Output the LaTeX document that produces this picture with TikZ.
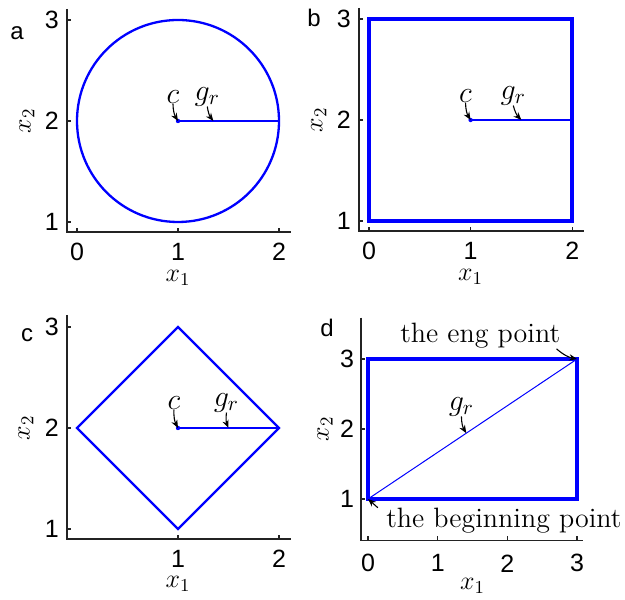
\RequirePackage{fix-cm}
\documentclass[tikz,border=0pt]{standalone}
\usepackage{fontspec}
\newfontfamily\axisfont{Liberation Sans}
\usepackage{xcolor}
\usepackage{tikz}
\usetikzlibrary{arrows.meta, positioning}
\definecolor{curveblue}{RGB}{0,0,255}
\definecolor{axisgray}{RGB}{35,35,35}
\tikzset{
    axisline/.style={draw=axisgray, line width=0.7pt},
    ticklabel/.style={font=\fontsize{12.5}{12.5}\axisfont, inner sep=0pt},
    panellabel/.style={font=\fontsize{12}{12}\axisfont, inner sep=0pt},
    axislabel/.style={font=\fontsize{13}{13}\selectfont, inner sep=0pt},
    mathlabel/.style={font=\fontsize{15}{15}\selectfont, inner sep=0pt},
    notelabel/.style={font=\fontsize{14}{14}\selectfont, inner sep=0pt},
    boundary/.style={draw=curveblue, line width=1.15pt},
    thickboundary/.style={draw=curveblue, line width=2.2pt},
    radiusline/.style={draw=curveblue, line width=0.65pt},
    pointer/.style={-{Stealth[length=4pt, width=3.2pt]}, line width=0.55pt, black}
}

\begin{document}
\begin{tikzpicture}
    \useasboundingbox (0,0) rectangle (312.5pt,299.5pt);

    % Panel labels
    \node[panellabel] (pa) at (8.5pt,283pt) {a};
    \node[panellabel] (pb) at (157pt,290.5pt) {b};
    \node[panellabel] (pc) at (13.5pt,132pt) {c};
    \node[panellabel] (pd) at (163.5pt,135.5pt) {d};

    % Panel a: circle
    \begin{scope}[shift={(38.5pt,138pt)}, x=50.5pt, y=50.5pt]
        % Axes
        \draw[axisline] (-0.1,3.11) -- (-0.1,0.9) -- (2.12,0.9);
        \foreach \t in {0,1,2} {
            \draw[axisline] (\t,0.9) -- ++(0,2pt);
            \node[ticklabel] (ax\t) at ([yshift=-10pt]\t,0.9) {\t};
        }
        \foreach \t in {1,2,3} {
            \draw[axisline] (-0.1,\t) -- ++(2pt,0);
            \node[ticklabel] (ay\t) at ([xshift=-7.5pt]-0.1,\t) {\t};
        }
        \node[axislabel] (ax) at ([yshift=-23pt]1,0.9) {$x_1$};
        \node[axislabel, rotate=90] (ay) at ([xshift=-20pt]-0.1,2) {$x_2$};

        % Shape
        \coordinate (ac) at (1,2);
        \coordinate (ar) at (2,2);
        \coordinate (ag) at (1.35,2);
        \draw[boundary] (ac) circle (1);
        \draw[radiusline] (ac) -- (ar);
        \fill[curveblue] (ac) circle (1.1pt);

        % Labels
        \node[mathlabel] (acl) at (0.95,2.24) {$c$};
        \node[mathlabel] (agl) at (1.29,2.24) {$g_r$};
        \draw[pointer] (acl.south) to[bend right=15] (ac);
        \draw[pointer] (agl.south) to[bend right=15] (ag);
    \end{scope}

    % Panel b: square
    \begin{scope}[shift={(184.5pt,138.5pt)}, x=50.8pt, y=50.5pt]
        % Axes
        \draw[axisline] (-0.1,3.11) -- (-0.1,0.9) -- (2.12,0.9);
        \foreach \t in {0,1,2} {
            \draw[axisline] (\t,0.9) -- ++(0,2pt);
            \node[ticklabel] (bx\t) at ([yshift=-10pt]\t,0.9) {\t};
        }
        \foreach \t in {1,2,3} {
            \draw[axisline] (-0.1,\t) -- ++(2pt,0);
            \node[ticklabel] (by\t) at ([xshift=-7.5pt]-0.1,\t) {\t};
        }
        \node[axislabel] (bx) at ([yshift=-23pt]1,0.9) {$x_1$};
        \node[axislabel, rotate=90] (by) at ([xshift=-20pt]-0.1,2) {$x_2$};

        % Shape
        \coordinate (bc) at (1,2);
        \coordinate (br) at (2,2);
        \coordinate (bg) at (1.5,2);
        \draw[thickboundary] (0,1) rectangle (2,3);
        \draw[radiusline] (bc) -- (br);
        \fill[curveblue] (bc) circle (1.1pt);

        % Labels
        \node[mathlabel] (bcl) at (0.95,2.24) {$c$};
        \node[mathlabel] (bgl) at (1.42,2.24) {$g_r$};
        \draw[pointer] (bcl.south) to[bend right=15] (bc);
        \draw[pointer] (bgl.south) to[bend right=15] (bg);
    \end{scope}

    % Panel c: diamond
    \begin{scope}[shift={(38.5pt,-15.5pt)}, x=50.5pt, y=50.5pt]
        % Axes
        \draw[axisline] (-0.1,3.12) -- (-0.1,0.9) -- (2.12,0.9);
        \foreach \t in {1,2} {
            \draw[axisline] (\t,0.9) -- ++(0,2pt);
            \node[ticklabel] (cx\t) at ([yshift=-10pt]\t,0.9) {\t};
        }
        \foreach \t in {1,2,3} {
            \draw[axisline] (-0.1,\t) -- ++(2pt,0);
            \node[ticklabel] (cy\t) at ([xshift=-7.5pt]-0.1,\t) {\t};
        }
        \node[axislabel] (cx) at ([yshift=-22.5pt]1,0.9) {$x_1$};
        \node[axislabel, rotate=90] (cy) at ([xshift=-20.5pt]-0.1,2) {$x_2$};

        % Shape
        \coordinate (cc) at (1,2);
        \coordinate (cr) at (2,2);
        \coordinate (cg) at (1.5,2);
        \draw[boundary] (0,2) -- (1,3) -- (cr) -- (1,1) -- cycle;
        \draw[radiusline] (cc) -- (cr);
        \fill[curveblue] (cc) circle (1.1pt);

        % Labels
        \node[mathlabel] (ccl) at (0.96,2.25) {$c$};
        \node[mathlabel] (cgl) at (1.48,2.25) {$g_r$};
        \draw[pointer] (ccl.south) to[bend right=15] (cc);
        \draw[pointer] (cgl.south) to[bend right=15] (cg);
    \end{scope}

    % Panel d: rectangle with diagonal
    \begin{scope}[shift={(184pt,15pt)}, x=34.85pt, y=35pt]
        % Axes
        \draw[axisline] (-0.1,3.59) -- (-0.1,0.41) -- (3.08,0.41);
        \foreach \t in {0,1,2,3} {
            \draw[axisline] (\t,0.41) -- ++(0,2pt);
            \node[ticklabel] (dx\t) at ([yshift=-11.5pt]\t,0.41) {\t};
        }
        \foreach \t in {1,2,3} {
            \draw[axisline] (-0.1,\t) -- ++(2pt,0);
            \node[ticklabel] (dy\t) at ([xshift=-7pt]-0.1,\t) {\t};
        }
        \node[axislabel] (dx) at ([yshift=-23pt]1.5,0.41) {$x_1$};
        \node[axislabel, rotate=90] (dy) at ([xshift=-18pt]-0.1,2) {$x_2$};

        % Shape
        \coordinate (db) at (0,1);
        \coordinate (de) at (3,3);
        \draw[thickboundary] (db) rectangle (de);
        \draw[radiusline, line width=0.5pt] (db) -- node[coordinate, pos=0.47] (dg) {} (de);

        % Labels
        \node[notelabel] (dend) at (1.61,3.33) {the eng point};
        \node[notelabel] (dbeg) at (1.95,0.69) {the beginning point};
        \node[mathlabel] (dgl) at (1.34,2.32) {$g_r$};
        \draw[pointer] ([xshift=-2pt]dend.south east) to[bend right=15] (de);
        \draw[pointer] ([xshift=-4pt]dbeg.north west) -- (db);
        \draw[pointer] (dgl.south) to[bend right=15] (dg);
    \end{scope}
\end{tikzpicture}
\end{document}
